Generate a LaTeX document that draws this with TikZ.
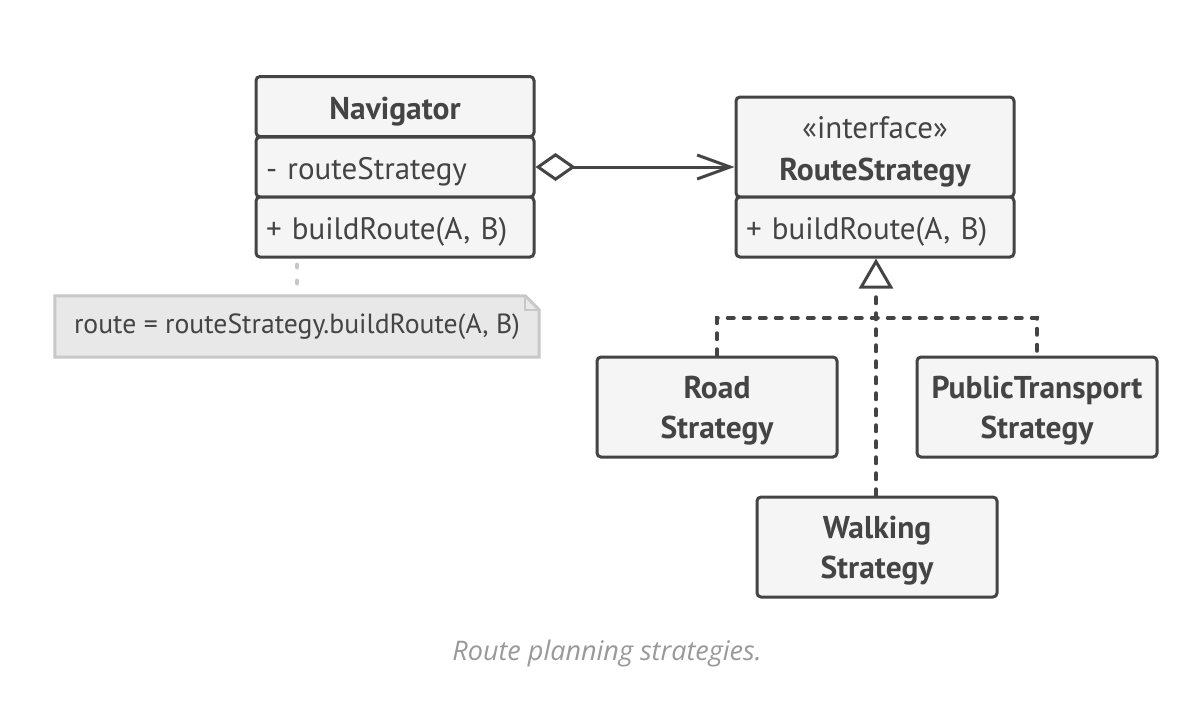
\documentclass[tikz,border=0pt]{standalone}
\usepackage{fontspec}
\setmainfont{PT Sans}
\newfontfamily\capfont{Open Sans}
\usetikzlibrary{arrows.meta,calc}
\definecolor{ink}{HTML}{444444}
\definecolor{boxfill}{HTML}{F5F5F5}
\definecolor{notefill}{HTML}{E8E8E8}
\definecolor{noteline}{HTML}{C8C8C8}
\definecolor{capgray}{HTML}{999999}
% two centred lines, baseline on the first one
\newcommand{\twolines}[3][0pt]{\begin{tabular}[t]{@{}c@{}}#2\\[#1]#3\end{tabular}}
\tikzset{
  umlpart/.style={draw=ink, fill=boxfill, line width=3pt, rounded corners=4pt,
    minimum width=278pt, inner sep=0pt, text=ink},
  oneline/.style={text height=25pt, text depth=0pt},
  twoline/.style={text height=0pt, text depth=16.5pt},
  classbox/.style={draw=ink, fill=boxfill, line width=3pt, rounded corners=4pt,
    minimum width=240pt, minimum height=100pt, inner sep=0pt, text=ink,
    twoline, font=\bfseries\fontsize{31.5}{40}\selectfont},
  member/.style={text height=24pt, text depth=0pt, font=\fontsize{31}{36}\selectfont,
    text width=258pt, align=left},
  realize/.style={draw=ink, line width=3.5pt, line cap=round, dash pattern=on 6.5pt off 9.5pt},
  assoc/.style={draw=ink, line width=3pt},
  notelink/.style={draw=noteline, line width=4pt, line cap=round, dash pattern=on 3pt off 13pt},
}
\begin{document}
\begin{tikzpicture}[x=1pt,y=-1pt]
\path[use as bounding box] (0,0) rectangle (1182,702);

% Navigator class
\node[umlpart, oneline, minimum height=60pt, font=\bfseries\fontsize{31.5}{36}\selectfont] (nav) at (395,106.5) {Navigator};
\node[umlpart, minimum height=60pt, member] (navattr) at (395,167) {- routeStrategy};
\node[umlpart, minimum height=60pt, member] (navops) at (395,227) {+ buildRoute(A, B)};

% RouteStrategy interface
\node[umlpart, minimum height=100pt, twoline, font=\fontsize{31}{40}\selectfont] (rs) at (875,147)
  {\twolines[1.6pt]{\guillemotleft interface\guillemotright}{\bfseries\fontsize{31.5}{40}\selectfont RouteStrategy}};
\node[umlpart, minimum height=60pt, member] (rsops) at (875,227) {+ buildRoute(A, B)};

% concrete strategies
\node[classbox] (road) at (717,407) {\twolines{Road}{Strategy}};
\node[classbox] (pt) at (1037,407) {\twolines{PublicTransport}{Strategy}};
\node[classbox] (walk) at (877,547) {\twolines{Walking}{Strategy}};

% note with folded corner
\node[minimum width=484pt, minimum height=61pt, inner sep=0pt] (note) at (297,326.5) {};
\draw[draw=noteline, fill=notefill, line width=3pt, line join=miter]
  (note.north west) -- ($(note.north east)+(-14,0)$) -- ($(note.north east)+(0,14)$)
  -- (note.south east) -- (note.south west) -- cycle;
\draw[draw=noteline, line width=2pt] ($(note.north east)+(-14,0)$) |- ($(note.north east)+(0,14)$);
\node[text=ink, font=\fontsize{27.7}{32}\selectfont] (notetext) at (note.center) {route = routeStrategy.buildRoute(A, B)};
\draw[notelink] ($(navops.south -| note.north)+(0,6)$) -- (note.north);

% aggregation
\draw[assoc, {Diamond[open, length=40pt, width=28pt]}-{Straight Barb[length=33pt, width=24pt]}]
  (navattr.east) -- (navattr.east -| rs.west);

% realization
\coordinate (j) at (876,318);
\draw[realize, -{Triangle[open, length=30pt, width=34pt, line width=3pt]}]
  (walk.north -| j) -- (rsops.south -| j);
\draw[realize] (road.north) |- (j) -| (pt.north);

% caption
\node[text=capgray, font=\capfont\itshape\fontsize{27}{32}\selectfont] (cap) at (607,653) {Route planning strategies.};
\end{tikzpicture}
\end{document}
